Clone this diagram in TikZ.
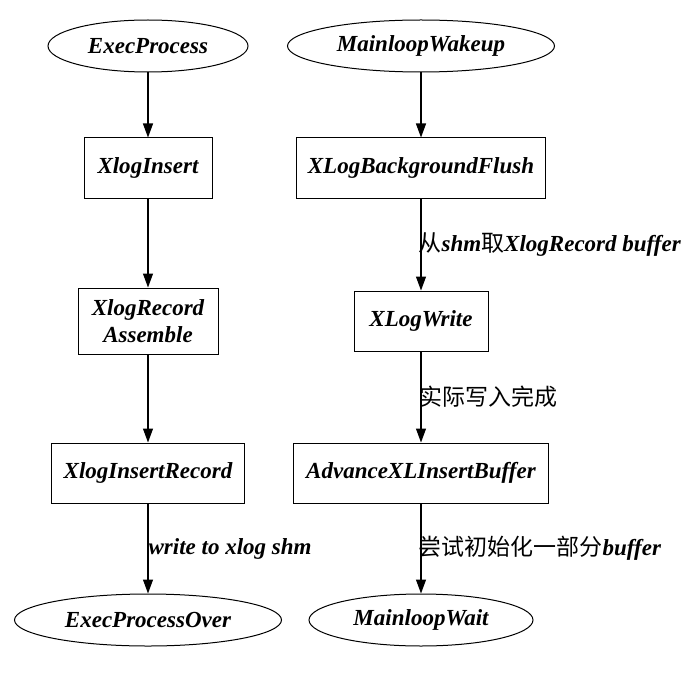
\documentclass[tikz,border=0pt]{standalone}
\usepackage{fontspec}
\setmainfont{Liberation Serif}
\newfontfamily\cjk{Noto Sans CJK SC}
\usepackage{tikz}
\usetikzlibrary{positioning, shapes.geometric, arrows.meta}

\tikzset{
    flowbox/.style={draw, rectangle, line width=1pt, inner sep=0pt, minimum height=60pt, font=\fontsize{23}{27}\selectfont\bfseries\itshape},
    flowend/.style={draw, ellipse, line width=1pt, inner sep=0pt, minimum height=52pt, font=\fontsize{23}{27}\selectfont\bfseries\itshape},
    flowlabel/.style={anchor=west, inner sep=0pt, font=\fontsize{23}{27}\selectfont},
    flowarrow/.style={-{Triangle[width=10pt,length=14pt]}, line width=1.2pt}
}

\begin{document}
\begin{tikzpicture}[x=1pt, y=-1pt, node distance=90pt]
    \useasboundingbox (0,0) rectangle (693,695);

    % Left column
    \node[flowend, minimum width=200pt] (exec) at (148,46) {ExecProcess};
    \node[flowbox, minimum width=128pt, below=65pt of exec] (insert) {XlogInsert};
    \node[flowbox, minimum width=140pt, minimum height=66pt, below=89pt of insert, align=center] (assemble) {XlogRecord\\Assemble};
    \node[flowbox, minimum width=193pt, below=88pt of assemble] (record) {XlogInsertRecord};
    \node[flowend, minimum width=267pt, below=90pt of record] (over) {ExecProcessOver};

    % Right column
    \node[flowend, minimum width=267pt] (wakeup) at (421,46) {MainloopWakeup};
    \node[flowbox, minimum width=249pt, below=65pt of wakeup] (flush) {XLogBackgroundFlush};
    \node[flowbox, minimum width=134pt, below=92pt of flush] (write) {XLogWrite};
    \node[flowbox, minimum width=255pt, below=91pt of write] (advance) {AdvanceXLInsertBuffer};
    \node[flowend, minimum width=224pt, below=90pt of advance] (wait) {MainloopWait};

    % Connections
    \draw[flowarrow] (exec) -- (insert);
    \draw[flowarrow] (insert) -- (assemble);
    \draw[flowarrow] (assemble) -- (record);
    \draw[flowarrow] (record) -- node[flowlabel] {\bfseries\itshape write to xlog shm} (over);

    \draw[flowarrow] (wakeup) -- (flush);
    \draw[flowarrow] (flush) -- node[flowlabel, xshift=-3pt] {{\cjk 从}\textbf{\textit{shm}}{\cjk 取}\textbf{\textit{XlogRecord buffer}}} (write);
    \draw[flowarrow] (write) -- node[flowlabel, xshift=-2pt] {\cjk 实际写入完成} (advance);
    \draw[flowarrow] (advance) -- node[flowlabel, xshift=-3pt] {{\cjk 尝试初始化一部分}\textbf{\textit{buffer}}} (wait);

\end{tikzpicture}
\end{document}
